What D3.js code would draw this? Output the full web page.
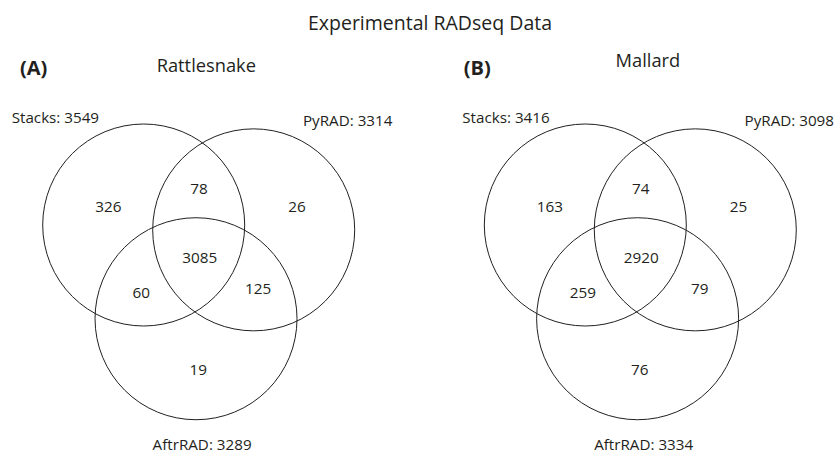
<!DOCTYPE html>
<html>
<head>
<meta charset="utf-8">
<script src="https://cdn.jsdelivr.net/npm/d3@7"></script>
<style>
  html, body { margin: 0; padding: 0; background: #fff; }
  svg text { font-family: "Open Sans", "Noto Sans", sans-serif; fill: #231f20; }
</style>
</head>
<body>
<svg id="chart" width="834" height="454"></svg>
<script>
// data
const panels = ["(A)", "(B)"];
const species = ["Rattlesnake", "Mallard"];
const programs = ["Stacks", "PyRAD", "AftrRAD"];
const totals = [
  [3549, 3314, 3289],
  [3416, 3098, 3334]
];
// regions: S only, S∩P, P only, all three, S∩A, P∩A, A only
const regionKeys = ["S", "SP", "P", "SPA", "SA", "PA", "A"];
const counts = [
  [326, 78, 26, 3085, 60, 125, 19],
  [163, 74, 25, 2920, 259, 79, 76]
];

const svg = d3.select("#chart");
const R = 101;

// circle centres in radius units (Stacks at origin)
const centres = [[0, 0], [1.089, 0.048], [0.518, 0.928]];
// label positions per region, radius units
const regionPos = {
  S: [-0.35, -0.18], SP: [0.548, -0.36], P: [1.518, -0.18],
  SPA: [0.555, 0.32], SA: [-0.025, 0.665], PA: [1.133, 0.63], A: [0.54, 1.43]
};

svg.append("text")
  .attr("x", 430).attr("y", 23).attr("dy", "0.35em")
  .attr("text-anchor", "middle")
  .style("font-size", "19.5px")
  .text("Experimental RADseq Data");

const originX = [143.7, 585.3];
const originY = 225;
const stacksLabelX = [-1.307, -1.218];
const panelLabelX = [-1.09, -1.07];
const speciesY = [65.5, 61];

panels.forEach((p, i) => {
  const x = d3.scaleLinear().domain([0, 1]).range([originX[i], originX[i] + R]);
  const y = d3.scaleLinear().domain([0, 1]).range([originY, originY + R]);
  const g = svg.append("g");

  g.append("text")
    .attr("x", x(panelLabelX[i])).attr("y", 68).attr("dy", "0.35em")
    .attr("text-anchor", "middle")
    .style("font-size", "20px").style("font-weight", "bold")
    .text(p);

  g.append("text")
    .attr("x", x(0.62)).attr("y", speciesY[i]).attr("dy", "0.35em")
    .attr("text-anchor", "middle")
    .style("font-size", "18.3px")
    .text(species[i]);

  g.selectAll("circle")
    .data(centres)
    .join("circle")
    .attr("cx", d => x(d[0]))
    .attr("cy", d => y(d[1]))
    .attr("r", x(1) - x(0))
    .attr("fill", "none")
    .attr("stroke", "#231f20")
    .attr("stroke-width", 1);

  // set labels
  const setLabels = [
    {t: programs[0] + ": " + totals[i][0], x: x(stacksLabelX[i]), y: 118, anchor: "start"},
    {t: programs[1] + ": " + totals[i][1], x: x(1.577), y: 120.5, anchor: "start"},
    {t: programs[2] + ": " + totals[i][2], x: x(0.578), y: 445, anchor: "middle"}
  ];
  g.selectAll("text.set")
    .data(setLabels)
    .join("text")
    .attr("class", "set")
    .attr("x", d => d.x).attr("y", d => d.y).attr("dy", "0.35em")
    .attr("text-anchor", d => d.anchor)
    .style("font-size", "15.2px")
    .text(d => d.t);

  g.selectAll("text.count")
    .data(regionKeys.map((k, j) => ({k, v: counts[i][j]})))
    .join("text")
    .attr("class", "count")
    .attr("x", d => x(regionPos[d.k][0]))
    .attr("y", d => y(regionPos[d.k][1]))
    .attr("dy", "0.35em")
    .attr("text-anchor", "middle")
    .style("font-size", "15.3px")
    .text(d => d.v);
});
</script>
</body>
</html>
